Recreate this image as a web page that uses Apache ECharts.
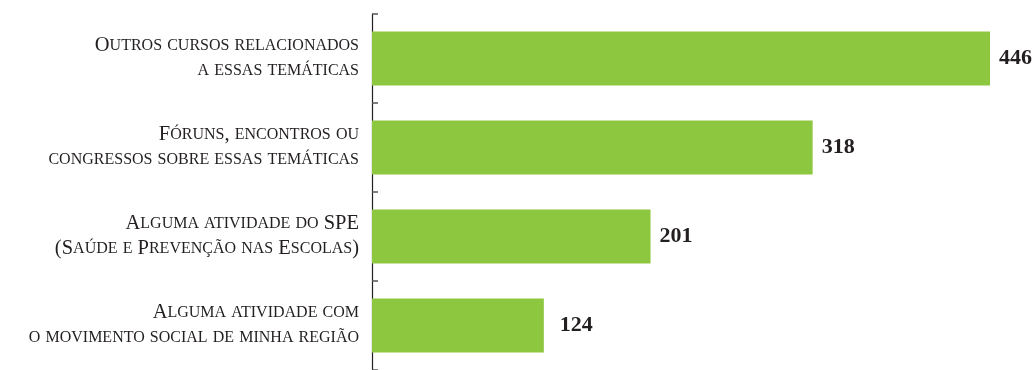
<!DOCTYPE html>
<html>
<head>
<meta charset="utf-8">
<script src="https://cdn.jsdelivr.net/npm/echarts@6/dist/echarts.min.js"></script>
<style>
  html, body { margin: 0; padding: 0; background: #ffffff; }
  #chart { width: 1036px; height: 370px; }
</style>
</head>
<body>
<div id="chart"></div>
<script>
// Activities carried out (counts), top to bottom
const categories = [
  'Outros cursos relacionados\na essas temáticas',
  'Fóruns, encontros ou\ncongressos sobre essas temáticas',
  'Alguma atividade do SPE\n(Saúde e Prevenção nas Escolas)',
  'Alguma atividade com\no movimento social de minha região'
];
const values = [446, 318, 201, 124];
const labelGaps = [9, 9, 9, 16];

const serif = '"Liberation Serif", "DejaVu Serif", serif';
const ink = '#231f20';

// Small-caps styling: lowercase letters become reduced capitals,
// everything else keeps the full size.
function smallCaps(text) {
  return text.split('\n').map(line => {
    let out = '';
    let run = '';
    let runKey = null;
    const flush = () => { if (run) out += '{' + runKey + '|' + run + '}'; run = ''; };
    for (const ch of line) {
      const isLower = ch !== ch.toUpperCase();
      const key = isLower ? 's' : 'c';
      if (key !== runKey) { flush(); runKey = key; }
      run += isLower ? ch.toUpperCase() : ch;
    }
    flush();
    return out;
  }).join('\n');
}

const chart = echarts.init(document.getElementById('chart'), null, { renderer: 'canvas' });

chart.setOption({
  animation: false,
  grid: { left: 372, top: 14, width: 658.2, height: 361.2, containLabel: false },
  xAxis: {
    type: 'value', min: 0, max: 475,
    show: false
  },
  yAxis: {
    type: 'category',
    data: categories,
    inverse: true,
    axisLine: { show: true, lineStyle: { color: ink, width: 1.2 } },
    axisTick: { show: true, inside: true, length: 6, lineStyle: { color: '#555555', width: 1.5 } },
    axisLabel: {
      margin: 13,
      align: 'right',
      lineHeight: 25,
      formatter: v => smallCaps(v),
      rich: {
        c: { fontFamily: serif, fontSize: 20.5, color: ink, lineHeight: 25 },
        s: { fontFamily: serif, fontSize: 16, color: ink, lineHeight: 25 }
      }
    }
  },
  series: [{
    type: 'bar',
    barWidth: 54,
    itemStyle: { color: '#8dc63f' },
    data: values.map((v, i) => ({
      value: v,
      label: { distance: labelGaps[i] }
    })),
    label: {
      show: true,
      position: 'right',
      color: ink,
      fontFamily: serif,
      fontWeight: 'bold',
      fontSize: 22
    }
  }]
});
</script>
</body>
</html>
